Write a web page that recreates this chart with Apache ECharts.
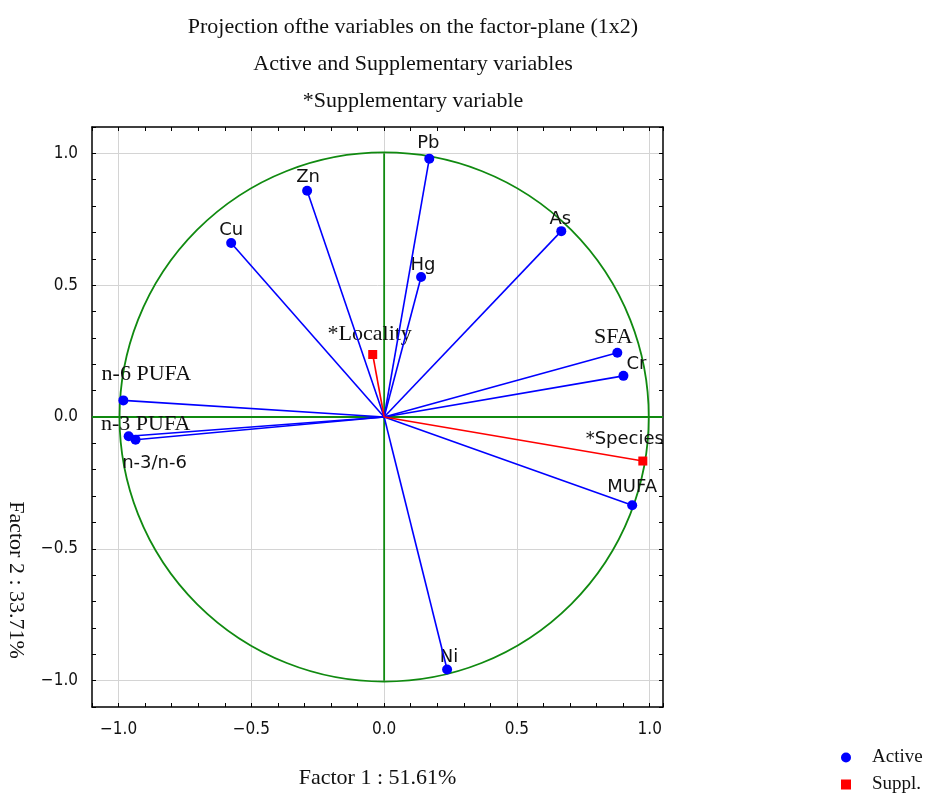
<!DOCTYPE html>
<html>
<head>
<meta charset="utf-8">
<script src="https://cdn.jsdelivr.net/npm/echarts@6/dist/echarts.min.js"></script>
<style>
  html, body { margin: 0; padding: 0; background: #fff; }
  #main { width: 946px; height: 794px; }
</style>
</head>
<body>
<div id="main"></div>
<script>
// ==============================
// Data
// ==============================

const activeNames = ['Pb', 'Zn', 'Cu', 'As', 'Hg', 'SFA', 'Cr', 'n-6 PUFA', 'n-3 PUFA', 'n-3/n-6', 'MUFA', 'Ni'];
const activeX = [0.17, -0.29, -0.576, 0.667, 0.139, 0.878, 0.901, -0.982, -0.962, -0.936, 0.934, 0.237];
const activeY = [0.98, 0.858, 0.66, 0.705, 0.531, 0.244, 0.156, 0.063, -0.073, -0.086, -0.335, -0.958];

const supplNames = ['*Species', '*Locality'];
const supplX = [0.974, -0.043];
const supplY = [-0.167, 0.237];

const gridTicks = [-1, -0.5, 0, 0.5, 1];

const xMin = -1.1, xMax = 1.05;
const yMin = -1.1, yMax = 1.1;


// ==============================
// Label look (offset from point, font)
// ==============================

const SANS = '"DejaVu Sans", sans-serif';
const SERIF = '"Liberation Serif", serif';

const labelLook = {
    'Pb':        { offset: [-1, -15], font: SANS },
    'Zn':        { offset: [1, -13],  font: SANS },
    'Cu':        { offset: [0, -13],  font: SANS },
    'As':        { offset: [-1, -12], font: SANS },
    'Hg':        { offset: [2, -12],  font: SANS },
    'SFA':       { offset: [-4, -15], font: SERIF },
    'Cr':        { offset: [13, -12], font: SANS },
    'n-6 PUFA':  { offset: [23, -26], font: SERIF },
    'n-3 PUFA':  { offset: [17, -12], font: SERIF },
    'n-3/n-6':   { offset: [19, 24],  font: SANS },
    'MUFA':      { offset: [0, -18],  font: SANS },
    'Ni':        { offset: [2, -12],  font: SANS },
    '*Species':  { offset: [-18, -22], font: SANS },
    '*Locality': { offset: [-3, -20], font: SERIF }
};

function pointData(names, xs, ys){
    return names.map((n, i) => {
        const look = labelLook[n];
        return {
            name: n,
            value: [xs[i], ys[i]],
            label: {
                offset: look.offset,
                fontFamily: look.font,
                fontSize: look.font === SERIF ? 22 : 18
            }
        };
    });
}

function vectorData(xs, ys){
    return xs.map((x, i) => [
        { coord: [0, 0] },
        { coord: [x, ys[i]] }
    ]);
}

function tickText(v){
    const h = v * 2;
    if (Math.abs(h - Math.round(h)) > 1e-6) return '';
    const r = Math.round(h) / 2;
    return (r < 0 ? '\u2212' : '') + Math.abs(r).toFixed(1);
}


// ==============================
// ECharts
// ==============================

const myChart = echarts.init(document.getElementById('main'));

const axisBase = {
    type: 'value',
    interval: 0.1,
    axisLine: { onZero: false, lineStyle: { color: '#000', width: 1.5 } },
    axisTick: { inside: true, length: 4, lineStyle: { color: '#000', width: 1 } },
    splitLine: { show: false }
};

const pointLabel = {
    show: true,
    position: 'inside',
    formatter: '{b}',
    color: '#111',
    align: 'center',
    verticalAlign: 'middle'
};

const legendText = {
    fontFamily: SERIF,
    fontSize: 19,
    color: '#111',
    padding: [0, 0, 0, 16]
};

myChart.setOption({

    backgroundColor: '#fff',
    animation: false,

    title: {
        text: 'Projection ofthe variables on the factor-plane (1x2)\nActive and Supplementary variables\n*Supplementary variable',
        left: 408,
        top: 4,
        textAlign: 'center',
        textStyle: {
            fontFamily: SERIF,
            fontSize: 22,
            fontWeight: 'normal',
            color: '#111',
            lineHeight: 37
        }
    },

    legend: [
        {
            left: 836,
            top: 743,
            itemWidth: 10,
            itemHeight: 10,
            data: [{ name: 'Active', icon: 'circle' }],
            textStyle: legendText
        },
        {
            left: 836,
            top: 770,
            itemWidth: 10,
            itemHeight: 10,
            data: [{ name: 'Suppl.', icon: 'rect' }],
            textStyle: legendText
        }
    ],

    grid: {
        left: 92,
        top: 127,
        width: 571,
        height: 586
    },

    xAxis: [
        Object.assign({}, axisBase, {
            min: xMin, max: xMax,
            position: 'bottom',
            name: 'Factor 1 : 51.61%',
            nameLocation: 'middle',
            nameGap: 60,
            nameTextStyle: { fontFamily: SERIF, fontSize: 22, color: '#111' },
            axisLabel: {
                formatter: tickText,
                fontFamily: '"DejaVu Sans Condensed", sans-serif',
                fontSize: 17,
                color: '#111',
                margin: 14
            }
        }),
        Object.assign({}, axisBase, {
            min: xMin, max: xMax,
            position: 'top',
            axisLabel: { show: false }
        })
    ],

    yAxis: [
        Object.assign({}, axisBase, {
            min: yMin, max: yMax,
            position: 'left',
            axisLabel: {
                formatter: tickText,
                fontFamily: '"DejaVu Sans Condensed", sans-serif',
                fontSize: 17,
                color: '#111',
                margin: 14
            }
        }),
        Object.assign({}, axisBase, {
            min: yMin, max: yMax,
            position: 'right',
            axisLabel: { show: false }
        })
    ],

    graphic: [
        {
            type: 'text',
            x: 16,
            y: 580,
            rotation: -Math.PI / 2,
            style: {
                text: 'Factor 2 : 33.71%',
                font: '22px "Liberation Serif", serif',
                fill: '#111',
                align: 'center',
                verticalAlign: 'middle'
            }
        }
    ],

    series: [

        // light grid lines at major ticks
        {
            type: 'line',
            name: 'grid',
            z: 0,
            silent: true,
            data: [],
            markLine: {
                silent: true,
                z: 0,
                symbol: ['none', 'none'],
                label: { show: false },
                lineStyle: { color: '#d4d4d4', width: 1, type: 'solid' },
                data: gridTicks.map(v => ({ xAxis: v }))
                    .concat(gridTicks.map(v => ({ yAxis: v })))
            }
        },

        // unit circle + green axes
        {
            type: 'custom',
            name: 'frame',
            silent: true,
            z: 2,
            data: [[0, 0]],
            renderItem: function(params, api){
                const c = api.coord([0, 0]);
                const s = api.size([1, 1]);
                const l = api.coord([xMin, 0]);
                const r = api.coord([xMax, 0]);
                const t = api.coord([0, 1]);
                const b = api.coord([0, -1]);
                const green = { stroke: '#108a10', lineWidth: 1.8, fill: null };
                return {
                    type: 'group',
                    children: [
                        { type: 'circle', shape: { cx: c[0], cy: c[1], r: (s[0] + s[1]) / 2 }, style: green },
                        { type: 'line', shape: { x1: l[0], y1: l[1], x2: r[0], y2: r[1] }, style: green },
                        { type: 'line', shape: { x1: t[0], y1: t[1], x2: b[0], y2: b[1] }, style: green }
                    ]
                };
            }
        },

        // active variables
        {
            type: 'scatter',
            name: 'Active',
            z: 4,
            symbol: 'circle',
            symbolSize: 10,
            itemStyle: { color: '#0000ff', opacity: 1 },
            label: pointLabel,
            data: pointData(activeNames, activeX, activeY),
            markLine: {
                silent: true,
                symbol: ['none', 'none'],
                label: { show: false },
                lineStyle: { color: '#0000ff', width: 1.6, type: 'solid' },
                data: vectorData(activeX, activeY)
            }
        },

        // supplementary variables
        {
            type: 'scatter',
            name: 'Suppl.',
            z: 4,
            symbol: 'rect',
            symbolSize: 9,
            itemStyle: { color: '#ff0000', opacity: 1 },
            label: pointLabel,
            data: pointData(supplNames, supplX, supplY),
            markLine: {
                silent: true,
                symbol: ['none', 'none'],
                label: { show: false },
                lineStyle: { color: '#ff0000', width: 1.6, type: 'solid' },
                data: vectorData(supplX, supplY)
            }
        }

    ]

});
</script>
</body>
</html>
